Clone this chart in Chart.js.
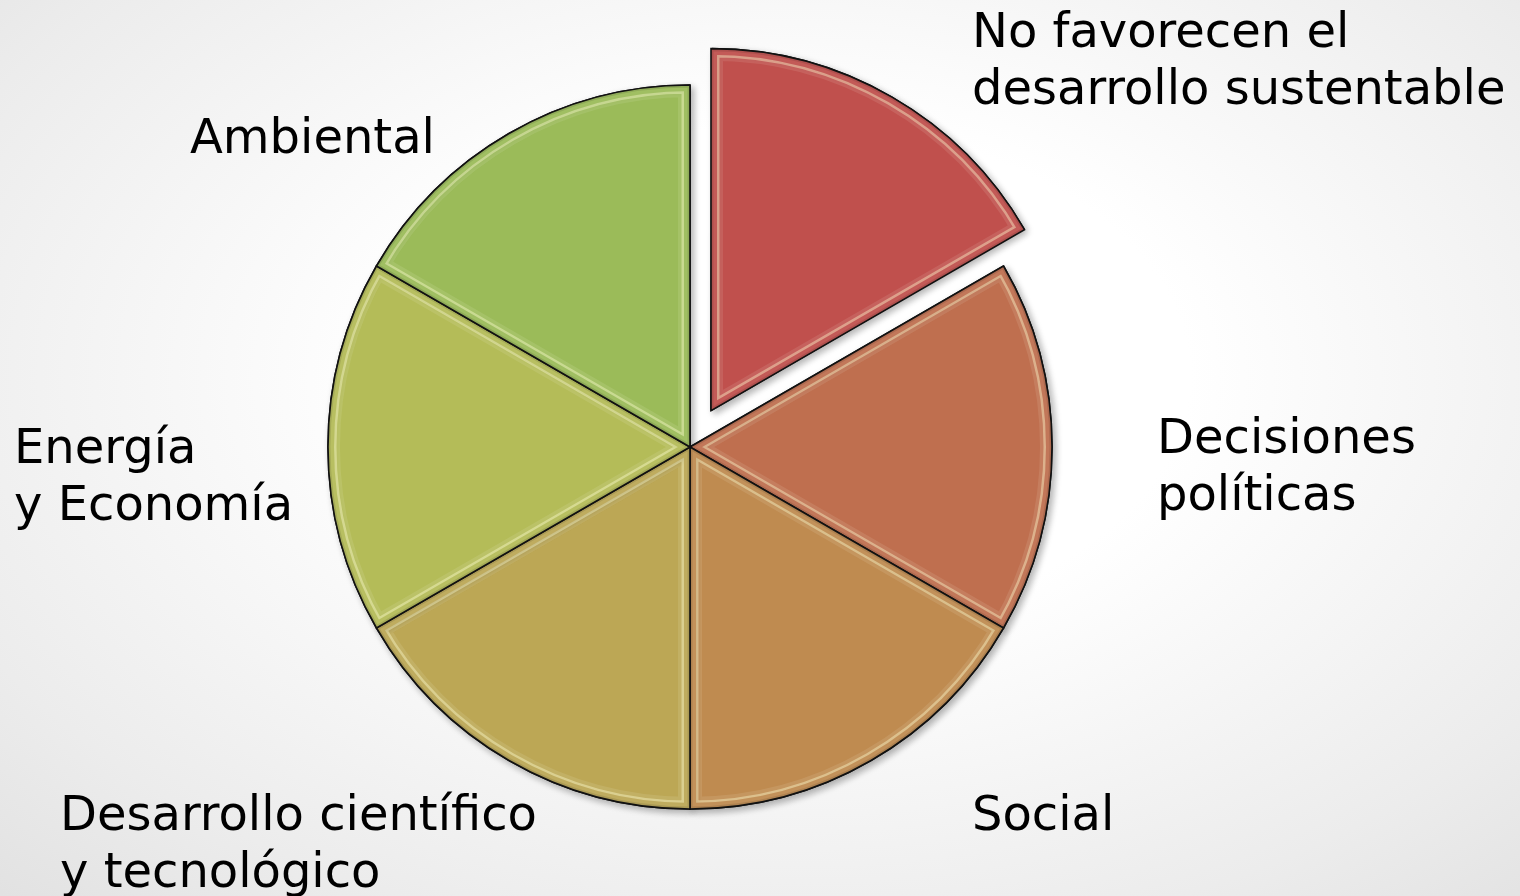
<!DOCTYPE html>
<html>
<head>
<meta charset="utf-8">
<script src="https://cdn.jsdelivr.net/npm/chart.js@4/dist/chart.umd.min.js"></script>
<style>
    html, body { margin: 0; padding: 0; }
    #wrap {
        position: relative;
        width: 1520px;
        height: 896px;
        overflow: hidden;
        background: radial-gradient(ellipse 75% 80% at 52% 42%, #ffffff 35%, #ececec 80%, #e2e2e2 100%);
        font-family: "DejaVu Sans", Verdana, sans-serif;
    }
    #pie { position: absolute; left: 0; top: 0; }
    .lbl {
        position: absolute;
        font-size: 48px;
        line-height: 57px;
        color: #000;
        white-space: nowrap;
    }
</style>
</head>
<body>
<div id="wrap">
    <canvas id="pie" width="1520" height="896"></canvas>
</div>
<script>
// categories, clockwise from the top
const categories = [
    ["No favorecen el", "desarrollo sustentable"],
    ["Decisiones", "políticas"],
    ["Social"],
    ["Desarrollo científico", "y tecnológico"],
    ["Energía", "y Economía"],
    ["Ambiental"]
];
const values = [1, 1, 1, 1, 1, 1];
const exploded = [1, 0, 0, 0, 0, 0];
const sliceColors = ['#C0504D', '#BF6F4F', '#BF8B50', '#BCA755', '#B4BC58', '#9BBB59'];

// label boxes (left, top)
const labelPos = [[972, 2], [1157, 408], [972, 785], [60, 785], [14, 418], [190, 108]];

const wrap = document.getElementById("wrap");
categories.forEach((lines, i) => {
    const d = document.createElement("div");
    d.className = "lbl";
    d.style.left = labelPos[i][0] + "px";
    d.style.top = labelPos[i][1] + "px";
    d.innerHTML = lines.join("<br>");
    wrap.appendChild(d);
});

const RADIUS = 362;
const EXPLODE = 42;

// soft shadow under the slices
const shadowPlugin = {
    id: 'shadow',
    beforeDatasetsDraw(chart) {
        const ctx = chart.ctx;
        ctx.save();
        ctx.shadowColor = 'rgba(0,0,0,0.3)';
        ctx.shadowBlur = 7;
        ctx.shadowOffsetX = 3;
        ctx.shadowOffsetY = 3;
    },
    afterDatasetsDraw(chart) {
        chart.ctx.restore();
    }
};

// keep the pulled-out slice at the same radius as the rest
const radiusFix = {
    id: 'radiusFix',
    afterDatasetsUpdate(chart) {
        chart.getDatasetMeta(0).data.forEach(arc => {
            const off = (arc.options.offset || 0) / 4;
            if (off > 0) {
                const fix = 1 - Math.sin(Math.min(Math.PI, arc.circumference));
                arc.outerRadius = RADIUS - off * fix;
            }
        });
    }
};

// glossy inner bevel
const bevelPlugin = {
    id: 'bevel',
    afterDatasetsDraw(chart) {
        const ctx = chart.ctx;
        chart.getDatasetMeta(0).data.forEach((arc, i) => {
            const off = (arc.options.offset || 0) / 4;
            const mid = (arc.startAngle + arc.endAngle) / 2;
            const cx = arc.x + Math.cos(mid) * off;
            const cy = arc.y + Math.sin(mid) * off;
            ctx.save();
            ctx.beginPath();
            ctx.moveTo(cx, cy);
            ctx.arc(cx, cy, RADIUS, arc.startAngle, arc.endAngle);
            ctx.closePath();
            ctx.save();
            ctx.clip();
            ctx.lineJoin = 'round';
            ctx.lineWidth = 24;
            ctx.strokeStyle = 'rgba(255,255,235,0.1)';
            ctx.stroke();
            ctx.lineWidth = 17;
            ctx.strokeStyle = 'rgba(255,255,210,0.4)';
            ctx.stroke();
            ctx.lineWidth = 12;
            ctx.strokeStyle = sliceColors[i];
            ctx.stroke();
            ctx.lineWidth = 12;
            ctx.strokeStyle = 'rgba(255,255,255,0.06)';
            ctx.stroke();
            ctx.lineWidth = 5;
            ctx.strokeStyle = 'rgba(0,0,0,0.1)';
            ctx.stroke();
            ctx.restore();
            ctx.lineWidth = 1.6;
            ctx.strokeStyle = '#111';
            ctx.stroke();
            ctx.restore();
        });
    }
};

new Chart(document.getElementById("pie"), {
    type: 'pie',
    data: {
        labels: categories.map(l => l.join(' ')),
        datasets: [{
            data: values,
            backgroundColor: sliceColors,
            borderColor: '#111',
            borderWidth: 1.6,
            offset: exploded.map(e => e * EXPLODE * 4)
        }]
    },
    options: {
        responsive: false,
        animation: false,
        events: [],
        radius: RADIUS,
        layout: { padding: { left: 0, right: 140, top: 0, bottom: 2 } },
        plugins: {
            legend: { display: false },
            tooltip: { enabled: false }
        }
    },
    plugins: [radiusFix, shadowPlugin, bevelPlugin]
});
</script>
</body>
</html>
